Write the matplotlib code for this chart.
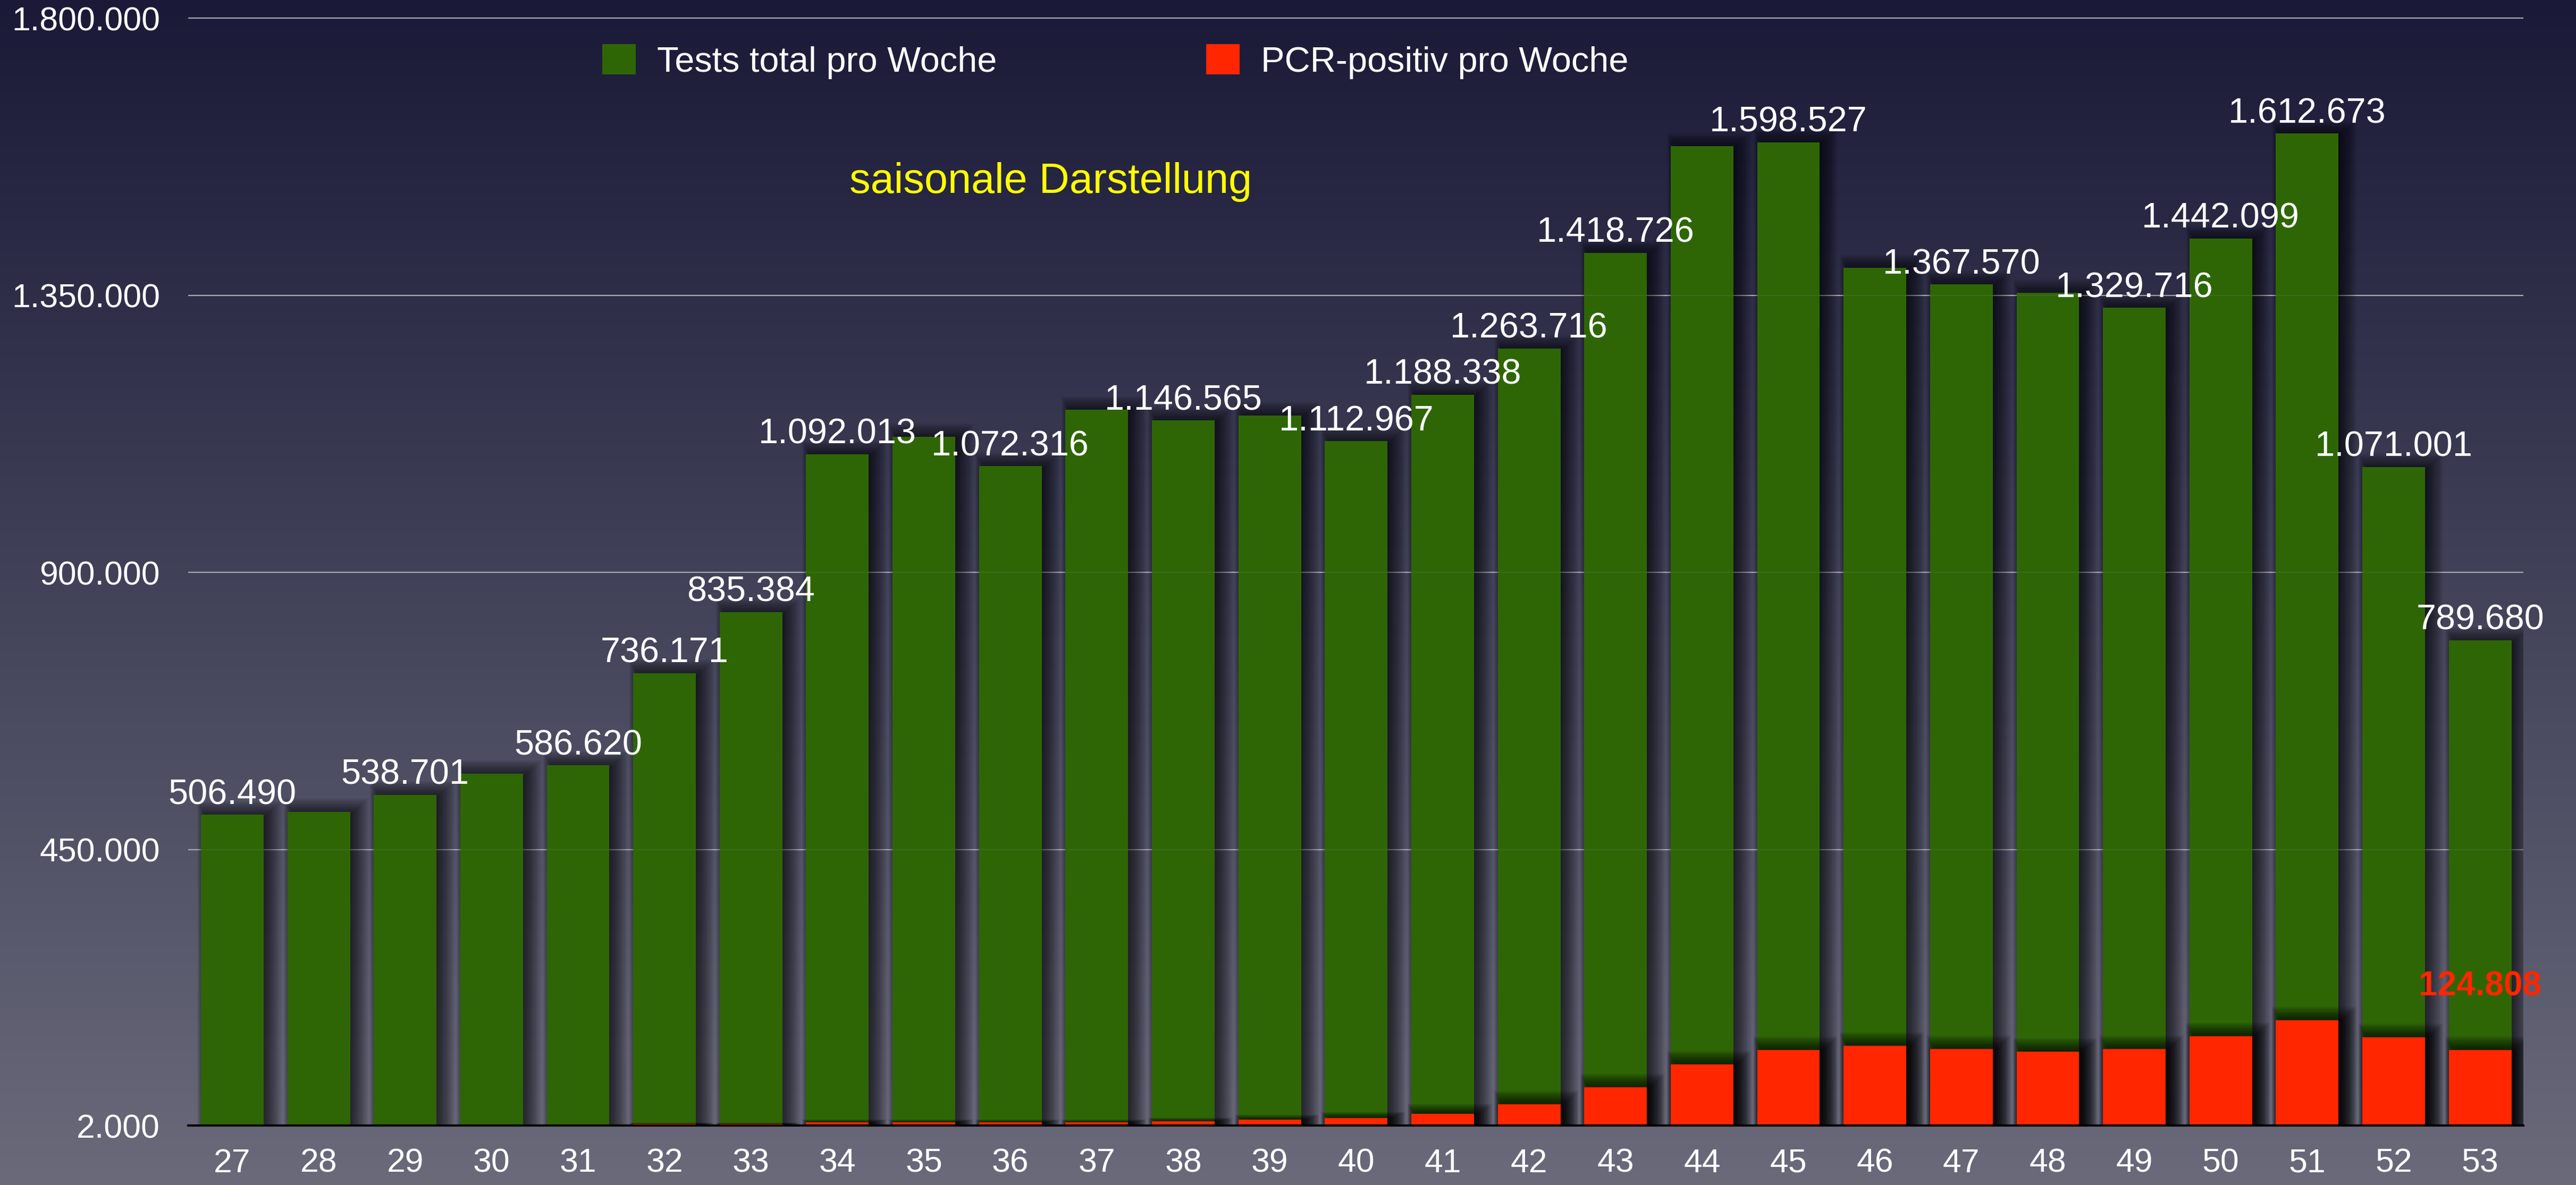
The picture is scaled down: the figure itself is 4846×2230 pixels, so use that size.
import numpy as np
import matplotlib
matplotlib.use("Agg")
import matplotlib.pyplot as plt
from matplotlib.patches import Patch
from matplotlib.colors import to_rgb

# ---------------- data ----------------
weeks = list(range(27, 54))
tests_total = [506490, 511000, 538701, 573000, 586620, 736171, 835384, 1092013,
               1120000, 1072316, 1164000, 1146565, 1155000, 1112967, 1188338,
               1263716, 1418726, 1592000, 1598527, 1394500, 1367570, 1354000,
               1329716, 1442099, 1612673, 1071001, 789680]
pcr_positive = [2200, 2200, 2300, 2300, 2400, 4400, 4500, 7200, 7200, 7200,
                7200, 8900, 11500, 14100, 21000, 36500, 64100, 101200, 124500,
                131400, 126200, 121900, 126200, 147000, 172800, 145200, 124808]
labeled_weeks = [27, 29, 31, 32, 33, 34, 36, 38, 40, 41, 42, 43, 45, 47, 49,
                 50, 51, 52, 53]
y_ticks = [2000, 450000, 900000, 1350000, 1800000]
series_names = ["Tests total pro Woche", "PCR-positiv pro Woche"]
subtitle = "saisonale Darstellung"

# ---------------- style ----------------
GREEN = "#2e6606"
RED = "#ff2600"
FONT = ["Liberation Sans", "DejaVu Sans"]
plt.rcParams["font.family"] = FONT

W, H = 4846, 2230
fig = plt.figure(figsize=(W / 100, H / 100), dpi=100)

# background gradient
bg = fig.add_axes([0, 0, 1, 1], zorder=-10)
top_c = np.array(to_rgb("#1a1a38"))
bot_c = np.array(to_rgb("#6a6a7b"))
t = np.linspace(0, 1, 512)[:, None, None]
grad = top_c * (1 - t) + bot_c * t
grad = np.repeat(grad, 2, axis=1)
bg.imshow(grad, aspect="auto", extent=[0, 1, 0, 1])
bg.axis("off")

# main axes
ax_left, ax_right = 354 / W, 4747 / W
ax_bottom = (H - 2118) / H
ax = fig.add_axes([ax_left, ax_bottom, ax_right - ax_left, 1 - ax_bottom])
ax.set_facecolor("none")

x = np.array(weeks, dtype=float)
tot = np.array(tests_total, dtype=float)
pos = np.array(pcr_positive, dtype=float)

y_min = 2000
px_per_val = 862.8
y_max = y_min + 2118 * px_per_val
ax.set_xlim(26.49, 53.5)
ax.set_ylim(y_min, y_max)

BAR_W = 0.725
PX = 1 / 162.75      # data units per pixel (x)
PY = px_per_val      # data units per pixel (y)


def shadow(vals, z, alpha=0.045):
    h = vals - y_min
    grow = np.clip(h / (30 * PY), 0, 1)
    for r in range(0, 44, 2):
        left = x - BAR_W / 2 + (14 - 0.5 * r) * PX
        right = x + BAR_W / 2 + (-4 + 0.9 * r) * PX
        top = np.maximum(h + (-10 + 0.85 * r) * PY * grow, 0)
        ax.bar(left, top, width=right - left,
               bottom=y_min, align="edge", color="black", alpha=alpha,
               linewidth=0, zorder=z)


# gridlines
for yt in y_ticks[1:]:
    ax.axhline(yt, color="#a9a9b2", lw=1.6, zorder=0.5)

shadow(tot, 1)
ax.bar(x, tot - y_min, width=BAR_W, bottom=y_min, color=GREEN, linewidth=0,
       zorder=2)
shadow(pos, 3, alpha=0.06)
ax.bar(x, pos - y_min, width=BAR_W, bottom=y_min, color=RED, linewidth=0,
       zorder=4)

# faint gridlines over bars
for yt in y_ticks[1:]:
    ax.axhline(yt, color="#a9a9b2", lw=1.6, alpha=0.12, zorder=5)


def de(v):
    return f"{int(v):,}".replace(",", ".")


for wk, v in zip(weeks, tests_total):
    if wk in labeled_weeks:
        ax.annotate(de(v), xy=(wk, v), xytext=(0, 14.5), textcoords="offset points",
                    ha="center", va="baseline", color="white", fontsize=48,
                    zorder=6)

# red label on last bar
ax.annotate(de(pcr_positive[-1]), xy=(weeks[-1], pcr_positive[-1]),
            xytext=(0, 86), textcoords="offset points", ha="center",
            va="center", color=RED, fontsize=46, fontweight="bold", zorder=6)

# axes styling
for s in ["top", "left", "right"]:
    ax.spines[s].set_visible(False)
ax.spines["bottom"].set_color("black")
ax.spines["bottom"].set_linewidth(3)
ax.spines["bottom"].set_zorder(7)

ax.set_xticks(weeks)
ax.set_xticklabels([str(w) for w in weeks])
ax.set_yticks(y_ticks)
ax.set_yticklabels([de(v) for v in y_ticks])
ax.tick_params(axis="both", length=0, labelsize=45, labelcolor="white")
ax.tick_params(axis="y", pad=38)
ax.tick_params(axis="x", pad=30)

# legend
handles = [Patch(facecolor=GREEN, edgecolor="none"),
           Patch(facecolor=RED, edgecolor="none")]
leg = ax.legend(handles, series_names, loc="center left",
                bbox_to_anchor=(1133 / W, 1 - 116 / H),
                bbox_transform=fig.transFigure, ncol=2, frameon=False,
                fontsize=48, handlelength=0.95, handleheight=0.93,
                handletextpad=0.6, columnspacing=5.9, borderpad=0,
                borderaxespad=0, labelcolor="white")

fig.text(1977 / W, 1 - 363 / H, subtitle, color="#ffff00", fontsize=57,
         ha="center", va="baseline")

fig.savefig("out.png", dpi=100)
